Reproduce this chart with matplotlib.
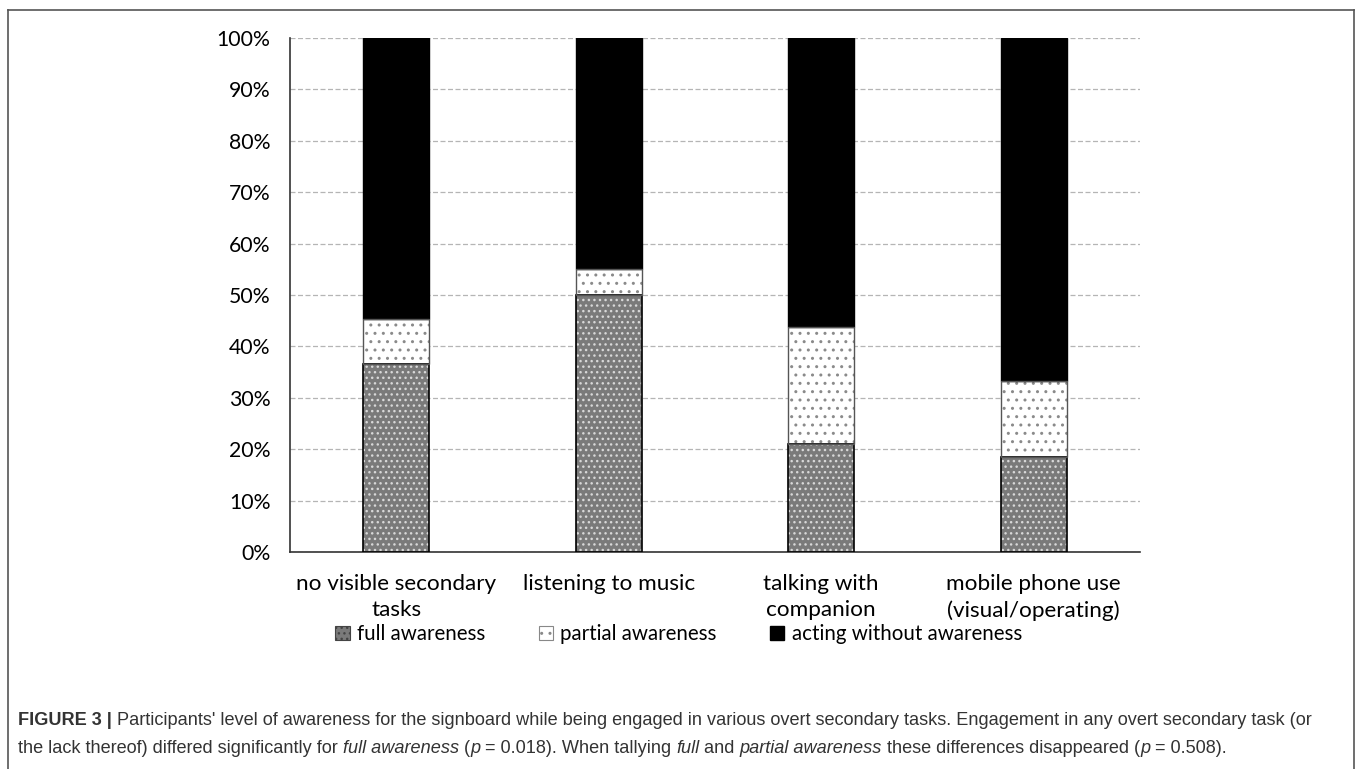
import matplotlib.pyplot as plt
import matplotlib.patches as mpatches
import numpy as np

categories = ['no visible secondary\ntasks', 'listening to music\n',
              'talking with\ncompanion', 'mobile phone use\n(visual/operating)']
full_aw = [36.6, 50.0, 21.1, 18.5]
partial_aw = [8.8, 5.0, 22.7, 14.7]
no_aw = [100 - f - p for f, p in zip(full_aw, partial_aw)]
yticks = np.arange(0, 101, 10)

tick_font = ['Lato', 'DejaVu Sans']
cap_font = ['Liberation Sans Narrow', 'Liberation Sans', 'DejaVu Sans']

fig = plt.figure(figsize=(13.57, 7.69), dpi=100)
ax = fig.add_axes([0.2137, 0.2822, 0.6263, 0.6684])

x = np.arange(len(categories))
w = 0.31
bottom2 = np.array(full_aw)
bottom3 = bottom2 + np.array(partial_aw)

# full awareness: gray with white dots
ax.bar(x, full_aw, w, color='#7a7a7a', edgecolor='#d8d8d8', hatch='...', linewidth=0, zorder=3)
ax.bar(x, full_aw, w, fill=False, edgecolor='black', linewidth=1.2, zorder=4)
# partial awareness: white with gray dots
ax.bar(x, partial_aw, w, bottom=bottom2, color='white', edgecolor='#8a8a8a', hatch='..', linewidth=0, zorder=3)
ax.bar(x, partial_aw, w, bottom=bottom2, fill=False, edgecolor='#555555', linewidth=1.0, zorder=4)
# acting without awareness
ax.bar(x, no_aw, w, bottom=bottom3, color='black', edgecolor='black', linewidth=1.0, zorder=3)

ax.set_xlim(-0.5, len(categories) - 0.5)
ax.set_ylim(0, 100)
ax.set_yticks(yticks)
ax.set_yticklabels(['%d%%' % v for v in yticks], fontsize=15.3, family=tick_font)
ax.set_xticks(x)
ax.set_xticklabels(categories, fontsize=16.2, family=tick_font, linespacing=1.35)
ax.tick_params(axis='both', length=0)
ax.tick_params(axis='x', pad=16)
ax.tick_params(axis='y', pad=14)
ax.yaxis.grid(True, color='#b5b5b5', linestyle=(0, (4, 2)), linewidth=0.9, zorder=0)
ax.set_axisbelow(True)
for s in ['top', 'right']:
    ax.spines[s].set_visible(False)
ax.spines['left'].set_color('#333333')
ax.spines['bottom'].set_color('#333333')
ax.spines['left'].set_linewidth(1.2)
ax.spines['bottom'].set_linewidth(1.2)

handles = [
    mpatches.Patch(facecolor='#7a7a7a', edgecolor='#444444', hatch='...', linewidth=0.8),
    mpatches.Patch(facecolor='white', edgecolor='#888888', hatch='..', linewidth=0.8),
    mpatches.Patch(facecolor='black', edgecolor='black'),
]
labels = ['full awareness', 'partial awareness', 'acting without awareness']
fig.legend(handles, labels, loc='center', bbox_to_anchor=(0.5, 0.175), ncol=3,
           frameon=False, prop={'family': tick_font, 'size': 14.8},
           handlelength=0.7, handleheight=0.7, handletextpad=0.35, columnspacing=2.6)

# figure frame
fig.add_artist(plt.Line2D([0.006, 0.006], [0.0, 0.987], color='#555555', lw=1.2, transform=fig.transFigure))
fig.add_artist(plt.Line2D([0.998, 0.998], [0.0, 0.987], color='#555555', lw=1.2, transform=fig.transFigure))
fig.add_artist(plt.Line2D([0.006, 0.998], [0.987, 0.987], color='#555555', lw=1.2, transform=fig.transFigure))

# caption
def caption_line(parts, y):
    prev = None
    for txt, weight, style in parts:
        if prev is None:
            prev = fig.text(0.0133, y, txt, fontsize=13.1, family=cap_font, weight=weight,
                            style=style, color='#333333', va='bottom', ha='left')
        else:
            prev = ax.annotate(txt, xy=(1, 0), xycoords=prev, va='bottom', ha='left',
                               fontsize=13.1, family=cap_font, weight=weight, style=style,
                               color='#333333', annotation_clip=False)

caption_line([('FIGURE 3 | ', 'bold', 'normal'),
              ("Participants' level of awareness for the signboard while being engaged in various overt "
               "secondary tasks. Engagement in any overt secondary task (or", 'normal', 'normal')], 0.052)
caption_line([('the lack thereof) differed significantly for ', 'normal', 'normal'),
              ('full awareness', 'normal', 'italic'),
              (' (', 'normal', 'normal'), ('p', 'normal', 'italic'),
              (' = 0.018). When tallying ', 'normal', 'normal'),
              ('full', 'normal', 'italic'), (' and ', 'normal', 'normal'),
              ('partial awareness', 'normal', 'italic'),
              (' these differences disappeared (', 'normal', 'normal'),
              ('p', 'normal', 'italic'), (' = 0.508).', 'normal', 'normal')], 0.015)

fig.savefig('out.png', dpi=100)
